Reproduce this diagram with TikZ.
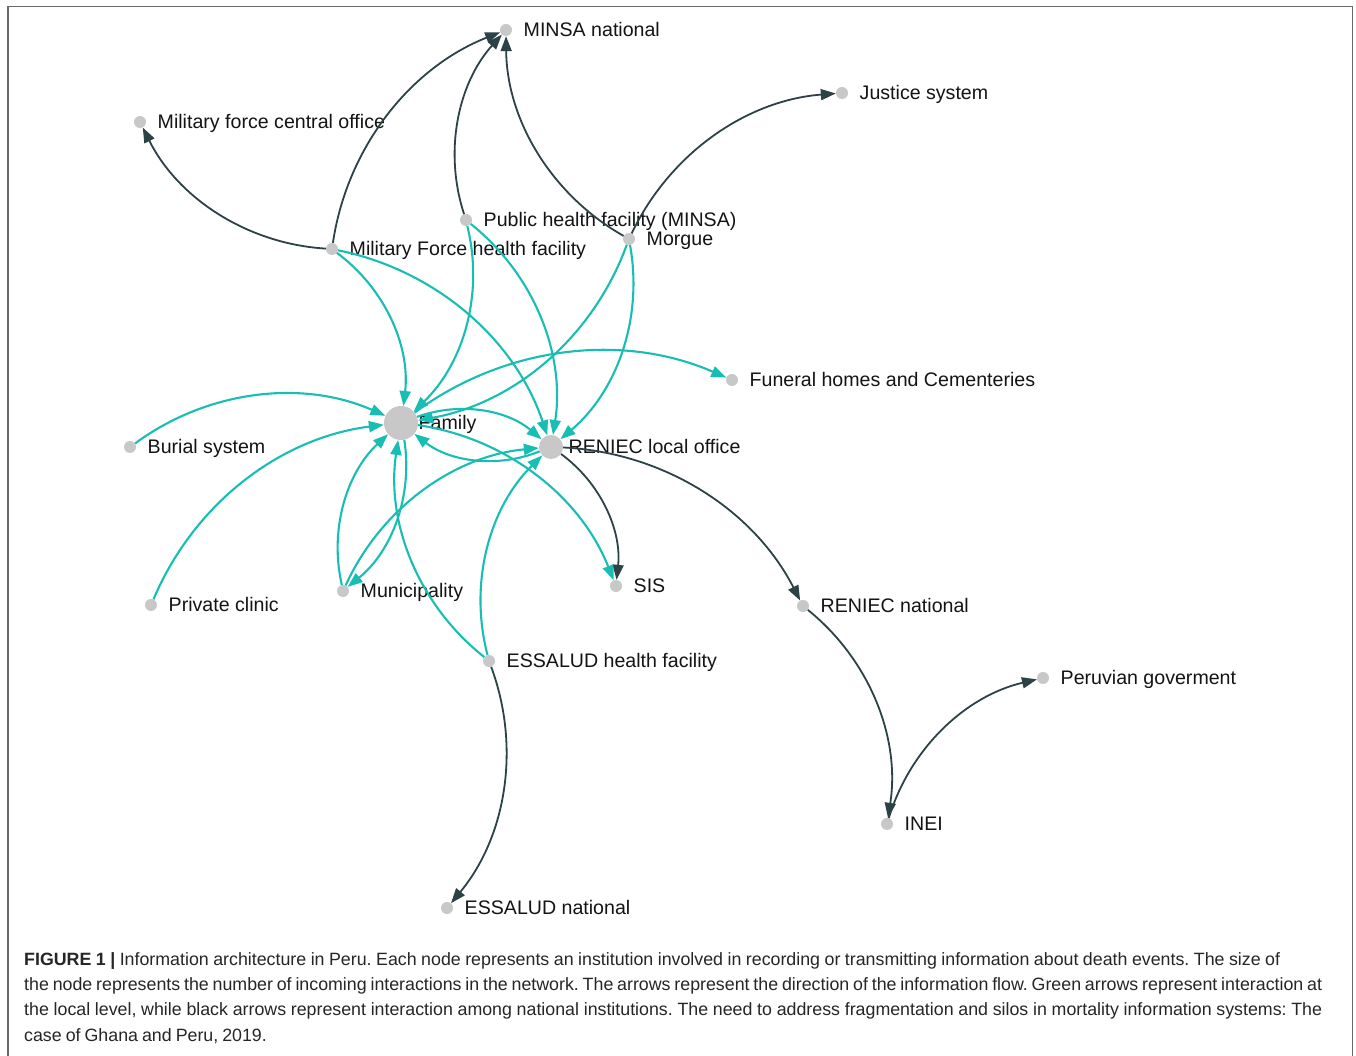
\documentclass[tikz,border=0pt]{standalone}
\usepackage{fontspec}
\setmainfont{Liberation Sans}
\usetikzlibrary{arrows.meta}
\definecolor{tealc}{RGB}{24,190,180}
\definecolor{darkc}{RGB}{45,66,70}
\definecolor{dotc}{RGB}{200,200,200}
\definecolor{labc}{RGB}{20,20,20}
\definecolor{framec}{RGB}{105,105,105}
\newcommand{\capline}[2]{\hbox to #1{\frenchspacing\spaceskip=4pt plus 3pt minus 2.5pt\relax #2}}
\begin{document}
\begin{tikzpicture}[x=1pt,y=1pt,
  dot/.style={circle,fill=dotc,inner sep=0pt,minimum size=12pt},
  bigdot/.style={dot,minimum size=34pt},
  meddot/.style={dot,minimum size=24pt},
  lab/.style={anchor=base west,inner sep=0pt,font=\fontsize{19.6}{22}\selectfont,text=labc},
  loc/.style={draw=tealc,line width=2.1pt,-{Triangle[length=15pt,width=11pt]},bend left=30,looseness=0.92},
  nat/.style={draw=darkc,line width=1.8pt,-{Triangle[length=15pt,width=11pt]},bend left=30,looseness=0.92},
  captxt/.style={anchor=base west,inner sep=0pt,font=\fontsize{17.8}{22}\selectfont,text=black!85}
]
\useasboundingbox (0,0) rectangle (1356,1056);
\fill[white] (0,0) rectangle (1356,1056);
\draw[framec,line width=1.5pt] (8,0) -- (8,1049.5) -- (1352.5,1049.5) -- (1352.5,0);

% nodes
\node[dot] (minsa) at (506,1026) {};
\node[dot] (justice) at (842,963) {};
\node[dot] (mfco) at (140,934) {};
\node[dot] (phf) at (466,836) {};
\node[dot] (mfhf) at (332,807) {};
\node[dot] (morgue) at (629,817) {};
\node[dot] (funeral) at (732,676) {};
\node[bigdot] (family) at (401,633) {};
\node[dot] (burial) at (130,609) {};
\node[meddot] (reniec) at (551,609) {};
\node[dot] (private) at (151,451) {};
\node[dot] (muni) at (343,465) {};
\node[dot] (sis) at (616,470) {};
\node[dot] (reniecn) at (803,450) {};
\node[dot] (essalud) at (489,395) {};
\node[dot] (peru) at (1043,378) {};
\node[dot] (inei) at (887,232) {};
\node[dot] (essaludn) at (447,148) {};

% labels
\node[lab] (lminsa) at ([xshift=17.5pt,yshift=-7pt]minsa.center) {MINSA national};
\node[lab] (ljustice) at ([xshift=17.5pt,yshift=-7pt]justice.center) {Justice system};
\node[lab] (lmfco) at ([xshift=17.5pt,yshift=-7pt]mfco.center) {Military force central office};
\node[lab] (lphf) at ([xshift=17.5pt,yshift=-7pt]phf.center) {Public health facility (MINSA)};
\node[lab] (lmfhf) at ([xshift=17.5pt,yshift=-7pt]mfhf.center) {Military Force health facility};
\node[lab] (lmorgue) at ([xshift=17.5pt,yshift=-7pt]morgue.center) {Morgue};
\node[lab] (lfuneral) at ([xshift=17.5pt,yshift=-7pt]funeral.center) {Funeral homes and Cementeries};
\node[lab] (lfamily) at ([xshift=17.5pt,yshift=-7pt]family.center) {Family};
\node[lab] (lburial) at ([xshift=17.5pt,yshift=-7pt]burial.center) {Burial system};
\node[lab] (lreniec) at ([xshift=17.5pt,yshift=-7pt]reniec.center) {RENIEC local office};
\node[lab] (lprivate) at ([xshift=17.5pt,yshift=-7pt]private.center) {Private clinic};
\node[lab] (lmuni) at ([xshift=17.5pt,yshift=-7pt]muni.center) {Municipality};
\node[lab] (lsis) at ([xshift=17.5pt,yshift=-7pt]sis.center) {SIS};
\node[lab] (lreniecn) at ([xshift=17.5pt,yshift=-7pt]reniecn.center) {RENIEC national};
\node[lab] (lessalud) at ([xshift=17.5pt,yshift=-7pt]essalud.center) {ESSALUD health facility};
\node[lab] (lperu) at ([xshift=17.5pt,yshift=-7pt]peru.center) {Peruvian goverment};
\node[lab] (linei) at ([xshift=17.5pt,yshift=-7pt]inei.center) {INEI};
\node[lab] (lessaludn) at ([xshift=17.5pt,yshift=-7pt]essaludn.center) {ESSALUD national};

% national (dark) edges
\draw[nat] (mfhf) to (mfco);
\draw[nat] (mfhf) to (minsa);
\draw[nat] (phf) to (minsa);
\draw[nat] (morgue) to (minsa);
\draw[nat] (morgue) to (justice);
\draw[nat] (reniec) to (sis);
\draw[nat] (reniec) to (reniecn);
\draw[nat] (reniecn) to (inei);
\draw[nat] (inei) to (peru);
\draw[nat] (essalud) to (essaludn);

% local (teal) edges
\draw[loc] (mfhf) to (family);
\draw[loc] (mfhf) to (reniec);
\draw[loc] (phf) to (family);
\draw[loc] (phf) to (reniec);
\draw[loc] (morgue) to (family);
\draw[loc] (morgue) to (reniec);
\draw[loc] (family) to (funeral);
\draw[loc] (burial) to (family);
\draw[loc] (private) to (family);
\draw[loc] (family) to (reniec);
\draw[loc] (reniec) to (family);
\draw[loc] (family) to (sis);
\draw[loc] (muni) to (family);
\draw[loc] (family) to (muni);
\draw[loc] (muni) to (reniec);
\draw[loc] (essalud) to (family);
\draw[loc] (essalud) to (reniec);

% caption
\node[captxt] (c1) at (24,90) {\capline{1256pt}{\textbf{FIGURE 1 |} Information architecture in Peru. Each node represents an institution involved in recording or transmitting information about death events. The size of}};
\node[captxt] (c2) at (24,65) {\capline{1298pt}{the node represents the number of incoming interactions in the network. The arrows represent the direction of the information flow. Green arrows represent interaction at}};
\node[captxt] (c3) at (24,40) {\capline{1298pt}{the local level, while black arrows represent interaction among national institutions. The need to address fragmentation and silos in mortality information systems: The}};
\node[captxt] (c4) at (24,14) {\frenchspacing\spaceskip=4pt plus 3pt minus 2.5pt\relax case of Ghana and Peru, 2019.};
\end{tikzpicture}
\end{document}
